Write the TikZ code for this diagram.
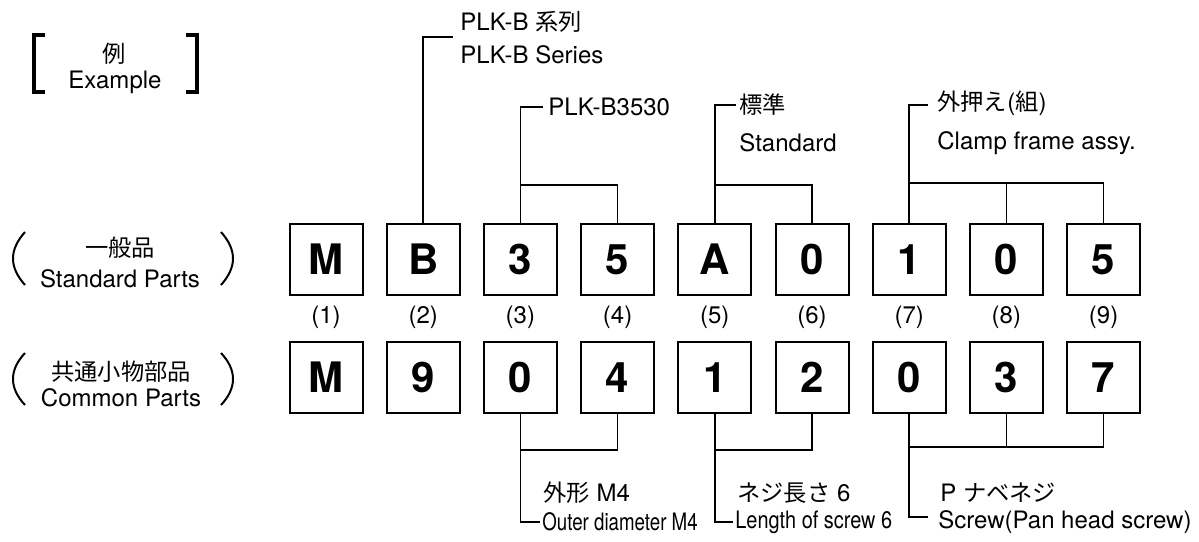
\documentclass[tikz,border=0pt]{standalone}
\usepackage{fontspec}
\usepackage{graphicx}
\setmainfont{TeX Gyre Heros}
\newfontfamily\jp[Scale=0.97]{Noto Sans CJK JP}
\tikzset{
  digitbox/.style={draw, line width=1pt, minimum width=36.5pt, minimum height=35.5pt,
    inner sep=0pt, font=\fontsize{21}{21}\selectfont\bfseries},
  idxlabel/.style={inner sep=0pt, font=\fontsize{12}{14}\selectfont},
  caption/.style={inner sep=0pt, font=\fontsize{12}{14}\selectfont},
  note/.style={anchor=west, inner sep=0pt, align=left, font=\fontsize{12}{16.5}\selectfont},
  link/.style={line width=0.8pt},
  brace/.style={line width=2pt},
  paren/.style={line width=1pt},
}
\begin{document}
\begin{tikzpicture}[x=0.5pt, y=-0.5pt]
    \useasboundingbox (0,0) rectangle (1199,541);

    % Example heading
    \draw[brace] (45,35) -- (34,35) -- (34,92) -- (45,92);
    \draw[brace] (186,35) -- (197,35) -- (197,92) -- (186,92);
    \node[caption] (ex_jp) at (114,54) {\jp 例};
    \node[caption] (ex_en) at (115,82) {Example};

    % Row captions
    \draw[paren] (25,232) .. controls (9,250) and (9,267) .. (25,285);
    \draw[paren] (221,232) .. controls (237,250) and (237,267) .. (221,285);
    \node[caption] (std_row_jp) at (120,248) {\jp 一般品};
    \node[caption] (std_row_en) at (120,279) {Standard Parts};
    \draw[paren] (25,353) .. controls (9,370) and (9,388) .. (25,405);
    \draw[paren] (221,353) .. controls (237,370) and (237,388) .. (221,405);
    \node[caption] (com_row_jp) at (121,372) {\jp 共通小物部品};
    \node[caption] (com_row_en) at (121,398) {Common Parts};

    % Code boxes
    \foreach \a [count=\i] in {M,B,3,5,A,0,1,0,5}
        \node[digitbox] (s\i) at ({326+(\i-1)*97.2},259.5) {\a};
    \foreach \a [count=\i] in {M,9,0,4,1,2,0,3,7}
        \node[digitbox] (c\i) at ({326+(\i-1)*97.2},377.5) {\a};
    \foreach \i in {1,...,9}
        \node[idxlabel] (n\i) at ({326+(\i-1)*97.2},317) {(\i)};

    % Series
    \coordinate (kB) at (453,37);
    \draw[link] (s2.north) |- (kB);
    \node[note] (ser) at (460,38) {PLK-B {\jp 系列}\\PLK-B Series};

    % Size
    \coordinate (k35) at (s3.north |- 0,185);
    \coordinate (t35) at (543,107);
    \draw[link] (s4.north) |- (k35) -- (s3.north);
    \draw[link] (k35) |- (t35);
    \node[note] (size) at (548,107) {PLK-B3530};

    % Type
    \coordinate (kA) at (s5.north |- 0,185);
    \coordinate (tA) at (736,105);
    \draw[link] (s6.north) |- (kA) -- (s5.north);
    \draw[link] (kA) |- (tA);
    \node[note] (type_jp) at (739,105) {\jp 標準};
    \node[note] (type_en) at (739,143) {Standard};

    % Part
    \coordinate (kC) at (s7.north |- 0,183);
    \coordinate (tC) at (928,105);
    \draw[link] (s9.north) |- (kC) -- (s7.north);
    \draw[link] (s8.north) -- (s8.north |- kC);
    \draw[link] (kC) |- (tC);
    \node[note] (part_jp) at (937,103) {{\jp 外押え}({\jp 組})};
    \node[note] (part_en) at (937,143) {Clamp frame assy.};

    % Diameter
    \coordinate (k34) at (c3.south |- 0,450);
    \coordinate (tD) at (540,522);
    \draw[link] (c4.south) |- (k34) -- (c3.south);
    \draw[link] (k34) |- (tD);
    \node[note] (dia_jp) at (543,493) {{\jp 外形} M4};
    \node[note] (dia_en) at (542,522) {\scalebox{0.78}[1]{Outer diameter M4}};

    % Length
    \coordinate (k56) at (c5.south |- 0,450);
    \coordinate (tE) at (733,522);
    \draw[link] (c6.south) |- (k56) -- (c5.south);
    \draw[link] (k56) |- (tE);
    \node[note] (len_jp) at (737,493) {{\jp ネジ長さ} 6};
    \node[note] (len_en) at (735,522) {\scalebox{0.83}[1]{Length of screw 6}};

    % Screw
    \coordinate (k79) at (c7.south |- 0,447);
    \coordinate (tF) at (928,517);
    \draw[link] (c9.south) |- (k79) -- (c7.south);
    \draw[link] (c8.south) -- (c8.south |- k79);
    \draw[link] (k79) |- (tF);
    \node[note] (scr_jp) at (940,493) {P {\jp ナベネジ}};
    \node[note] (scr_en) at (938,522) {Screw(Pan head screw)};

\end{tikzpicture}
\end{document}
